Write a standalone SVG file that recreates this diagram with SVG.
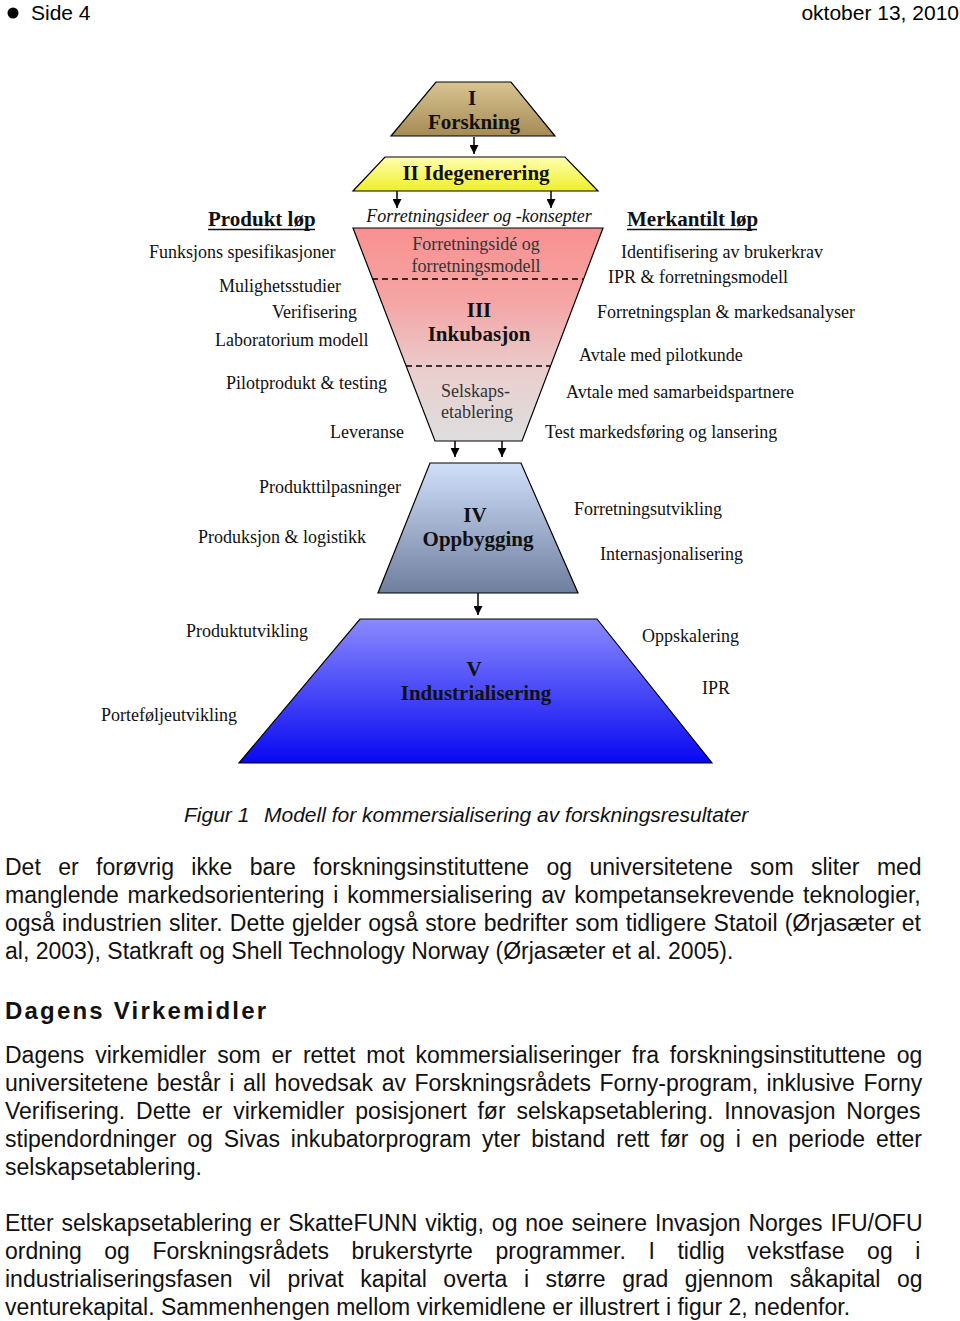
<svg xmlns="http://www.w3.org/2000/svg" width="960" height="1321" viewBox="0 0 960 1321">
<defs>
<linearGradient id="gI" x1="0" y1="0" x2="0" y2="1"><stop offset="0" stop-color="#d8c592"/><stop offset="1" stop-color="#a68a55"/></linearGradient>
<linearGradient id="gII" x1="0" y1="0" x2="0" y2="1"><stop offset="0" stop-color="#ffffb0"/><stop offset="1" stop-color="#eeee2a"/></linearGradient>
<linearGradient id="gIII" x1="0" y1="0" x2="0" y2="1"><stop offset="0" stop-color="#f99090"/><stop offset="0.35" stop-color="#f5a5a5"/><stop offset="0.7" stop-color="#e9d0d0"/><stop offset="1" stop-color="#dedede"/></linearGradient>
<linearGradient id="gIV" x1="0" y1="0" x2="0" y2="1"><stop offset="0" stop-color="#d0e0fa"/><stop offset="1" stop-color="#6f7e9e"/></linearGradient>
<linearGradient id="gV" x1="0" y1="0" x2="0" y2="1"><stop offset="0" stop-color="#8a8aff"/><stop offset="1" stop-color="#0808f2"/></linearGradient>
<marker id="ah" viewBox="0 0 10 10" refX="10" refY="5" markerWidth="9" markerHeight="9" markerUnits="userSpaceOnUse" orient="auto"><path d="M0,0 L10,5 L0,10 z" fill="#000"/></marker>
<style>
.shape{stroke:#000;stroke-width:1.2}
.t{font-family:"Liberation Serif","Times New Roman",serif;font-size:18px;fill:#111}
.ti{font-family:"Liberation Serif","Times New Roman",serif;font-size:18px;font-style:italic;fill:#111}
.tb{font-family:"Liberation Serif","Times New Roman",serif;font-size:21px;font-weight:bold;fill:#111}
.tin{font-family:"Liberation Serif","Times New Roman",serif;font-size:18px;fill:#333}
.c{text-anchor:middle}
.ul{stroke:#111;stroke-width:1.5}
.arr{stroke:#000;stroke-width:1.5;fill:none;marker-end:url(#ah)}
.dash{stroke:#000;stroke-width:1.3;stroke-dasharray:6,4}
.body{font-family:"Liberation Sans",Arial,sans-serif;font-size:23px;fill:#111}
.hdr{font-family:"Liberation Sans",Arial,sans-serif;font-size:21px;fill:#000}
.cap{font-family:"Liberation Sans",Arial,sans-serif;font-size:21px;font-style:italic;fill:#111}
.h2{font-family:"Liberation Sans",Arial,sans-serif;font-size:24px;font-weight:bold;letter-spacing:2.2px;fill:#111}
</style>
</defs>
<rect width="960" height="1321" fill="#fff"/>

<g id="header">
<circle cx="13" cy="13" r="5.5" fill="#000"/>
<text class="hdr" x="31" y="20">Side 4</text>
<text class="hdr" x="959" y="20" text-anchor="end">oktober 13, 2010</text>
</g>

<g id="node-I">
<polygon class="shape" points="436,82 511,82 555,136 391,136" fill="url(#gI)"/>
<text class="tb c"><tspan x="472" y="105">I</tspan><tspan x="474" y="129">Forskning</tspan></text>
</g>

<g id="node-II">
<polygon class="shape" points="385,157 565,157 598,191 353,191" fill="url(#gII)"/>
<text class="tb c" x="476" y="180">II Idegenerering</text>
</g>

<g id="ideas-label">
<text class="ti c" x="479" y="222">Forretningsideer og -konsepter</text>
</g>

<g id="node-III">
<polygon class="shape" points="353,228 603,228 522,441 435,441" fill="url(#gIII)"/>
<line class="dash" x1="372" y1="279" x2="584" y2="279"/>
<line class="dash" x1="406" y1="366" x2="550" y2="366"/>
<text class="tin c"><tspan x="476" y="250">Forretningsidé og</tspan><tspan x="476" y="272">forretningsmodell</tspan></text>
<text class="tb c"><tspan x="479" y="317">III</tspan><tspan x="479" y="341">Inkubasjon</tspan></text>
<text class="tin"><tspan x="441" y="397">Selskaps-</tspan><tspan x="441" y="418">etablering</tspan></text>
</g>

<g id="node-IV">
<polygon class="shape" points="430,463 521,463 578,593 378,593" fill="url(#gIV)"/>
<text class="tb c"><tspan x="475" y="522">IV</tspan><tspan x="478" y="546">Oppbygging</tspan></text>
</g>

<g id="node-V">
<polygon class="shape" points="360,619 597,619 712,763 239,763" fill="url(#gV)"/>
<text class="tb c"><tspan x="474" y="676">V</tspan><tspan x="476" y="700">Industrialisering</tspan></text>
</g>

<g id="produkt-lop">
<text class="tb" x="208" y="226">Produkt løp</text>
<line class="ul" x1="208" y1="229.5" x2="315" y2="229.5"/>
<text class="t" x="149" y="258">Funksjons spesifikasjoner</text>
<text class="t" x="219" y="292">Mulighetsstudier</text>
<text class="t" x="272" y="318">Verifisering</text>
<text class="t" x="215" y="346">Laboratorium modell</text>
<text class="t" x="226" y="389">Pilotprodukt &amp; testing</text>
<text class="t" x="330" y="438">Leveranse</text>
<text class="t" x="259" y="493">Produkttilpasninger</text>
<text class="t" x="198" y="543">Produksjon &amp; logistikk</text>
<text class="t" x="186" y="637">Produktutvikling</text>
<text class="t" x="101" y="721">Porteføljeutvikling</text>
</g>

<g id="merkantilt-lop">
<text class="tb" x="627" y="226">Merkantilt løp</text>
<line class="ul" x1="627" y1="229.5" x2="757" y2="229.5"/>
<text class="t" x="621" y="258">Identifisering av brukerkrav</text>
<text class="t" x="608" y="283">IPR &amp; forretningsmodell</text>
<text class="t" x="597" y="318">Forretningsplan &amp; markedsanalyser</text>
<text class="t" x="579" y="361">Avtale med pilotkunde</text>
<text class="t" x="566" y="398" textLength="228">Avtale med samarbeidspartnere</text>
<text class="t" x="545" y="438">Test markedsføring og lansering</text>
<text class="t" x="574" y="515">Forretningsutvikling</text>
<text class="t" x="600" y="560">Internasjonalisering</text>
<text class="t" x="642" y="642">Oppskalering</text>
<text class="t" x="702" y="694">IPR</text>
</g>

<g id="connectors">
<line class="arr" x1="474" y1="137" x2="474" y2="154"/>
<line class="arr" x1="397" y1="191" x2="397" y2="208"/>
<line class="arr" x1="551" y1="191" x2="551" y2="208"/>
<line class="arr" x1="455" y1="441" x2="455" y2="457"/>
<line class="arr" x1="502" y1="441" x2="502" y2="457"/>
<line class="arr" x1="478" y1="593" x2="478" y2="615"/>
</g>

<g id="caption">
<text class="cap" x="184" y="822">Figur 1</text>
<text class="cap" x="264" y="822">Modell for kommersialisering av forskningsresultater</text>
</g>

<g id="body">
<text class="body" x="5" y="875" style="word-spacing:11px">Det er forøvrig ikke bare forskningsinstituttene og universitetene som sliter med</text>
<text class="body" x="5" y="903" style="word-spacing:2.4px">manglende markedsorientering i kommersialisering av kompetansekrevende teknologier,</text>
<text class="body" x="5" y="931" style="word-spacing:0.8px">også industrien sliter. Dette gjelder også store bedrifter som tidligere Statoil (Ørjasæter et</text>
<text class="body" x="5" y="959">al, 2003), Statkraft og Shell Technology Norway (Ørjasæter et al. 2005).</text>
<text class="h2" x="5" y="1019">Dagens Virkemidler</text>
<text class="body" x="5" y="1063" style="word-spacing:4.5px">Dagens virkemidler som er rettet mot kommersialiseringer fra forskningsinstituttene og</text>
<text class="body" x="5" y="1091" style="word-spacing:2.2px">universitetene består i all hovedsak av Forskningsrådets Forny-program, inklusive Forny</text>
<text class="body" x="5" y="1119" style="word-spacing:4.5px">Verifisering. Dette er virkemidler posisjonert før selskapsetablering. Innovasjon Norges</text>
<text class="body" x="5" y="1147" style="word-spacing:4.5px">stipendordninger og Sivas inkubatorprogram yter bistand rett før og i en periode etter</text>
<text class="body" x="5" y="1175">selskapsetablering.</text>
<text class="body" x="5" y="1231" style="word-spacing:1.5px">Etter selskapsetablering er SkatteFUNN viktig, og noe seinere Invasjon Norges IFU/OFU</text>
<text class="body" x="5" y="1259" style="word-spacing:16.2px">ordning og Forskningsrådets brukerstyrte programmer. I tidlig vekstfase og i</text>
<text class="body" x="5" y="1287" style="word-spacing:10.2px">industrialiseringsfasen vil privat kapital overta i større grad gjennom såkapital og</text>
<text class="body" x="5" y="1315">venturekapital. Sammenhengen mellom virkemidlene er illustrert i figur 2, nedenfor.</text>
</g>
</svg>
